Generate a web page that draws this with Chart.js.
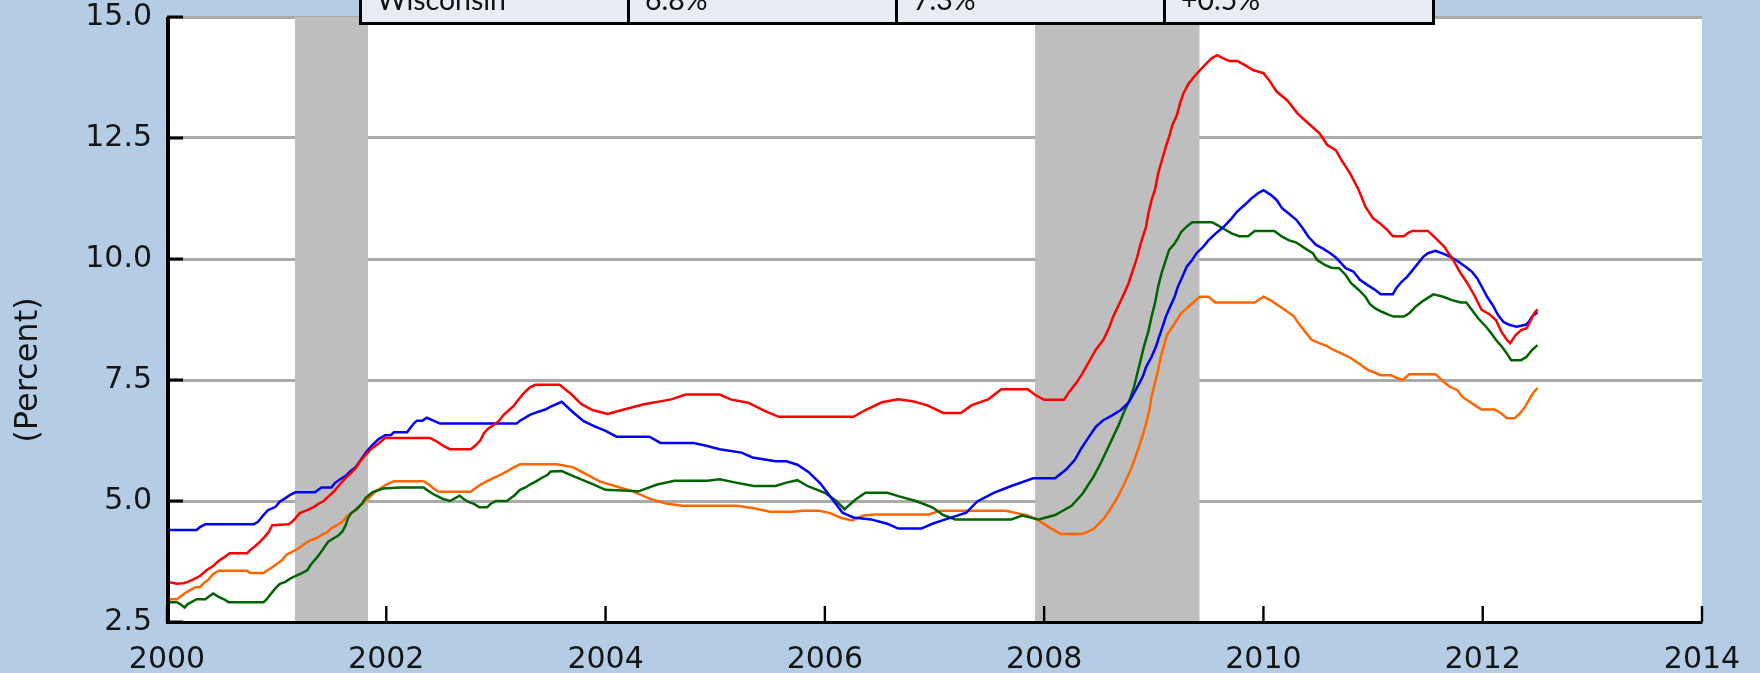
<!DOCTYPE html>
<html>
<head>
<meta charset="utf-8">
<script src="https://cdn.jsdelivr.net/npm/chart.js@4/dist/chart.umd.min.js"></script>
<style>
  html, body { margin: 0; padding: 0; background: #b4cde4; }
  #wrap { position: relative; width: 1760px; height: 673px; overflow: hidden; }
  canvas { display: block; }
</style>
</head>
<body>
<div id="wrap"><canvas id="c" width="1760" height="673"></canvas></div>
<script>
// ---------- data ----------
const xTickValues = [2000, 2002, 2004, 2006, 2008, 2010, 2012, 2014];
const xTickLabels = ['2000', '2002', '2004', '2006', '2008', '2010', '2012', '2014'];
const yTickValues = [2.5, 5, 7.5, 10, 12.5, 15];
const yTickLabels = ['2.5', '5.0', '7.5', '10.0', '12.5', '15.0'];
const yAxisTitle = '(Percent)';

const recessionStart = [2001.167, 2007.917];
const recessionEnd = [2001.833, 2009.417];

const tableRow = ['Wisconsin', '6.8%', '7.3%', '+0.5%'];

// Michigan (red)
const michiganX = [2000.00,2000.09,2000.15,2000.19,2000.24,2000.30,2000.36,2000.41,2000.47,2000.53,2000.57,2000.73,2000.76,2000.80,2000.85,2000.89,2000.93,2000.96,2001.11,2001.14,2001.17,2001.21,2001.28,2001.34,2001.38,2001.43,2001.47,2001.52,2001.56,2001.61,2001.67,2001.72,2001.76,2001.81,2001.87,2001.93,2001.99,2002.40,2002.46,2002.52,2002.58,2002.77,2002.81,2002.86,2002.89,2002.93,2002.98,2003.03,2003.07,2003.12,2003.16,2003.19,2003.25,2003.31,2003.36,2003.58,2003.68,2003.78,2003.88,2004.02,2004.15,2004.35,2004.60,2004.73,2005.04,2005.14,2005.30,2005.45,2005.58,2006.26,2006.37,2006.52,2006.67,2006.80,2006.93,2007.08,2007.24,2007.34,2007.49,2007.61,2007.85,2007.92,2008.00,2008.18,2008.23,2008.29,2008.34,2008.41,2008.47,2008.54,2008.59,2008.63,2008.68,2008.73,2008.77,2008.81,2008.85,2008.88,2008.93,2008.95,2008.98,2009.01,2009.04,2009.07,2009.11,2009.14,2009.17,2009.21,2009.24,2009.27,2009.32,2009.37,2009.42,2009.48,2009.53,2009.58,2009.63,2009.69,2009.76,2009.82,2009.91,2010.00,2010.05,2010.12,2010.22,2010.31,2010.41,2010.51,2010.58,2010.66,2010.71,2010.79,2010.87,2010.93,2011.00,2011.06,2011.13,2011.18,2011.28,2011.32,2011.36,2011.50,2011.57,2011.65,2011.73,2011.80,2011.86,2011.93,2011.99,2012.06,2012.12,2012.17,2012.22,2012.25,2012.30,2012.35,2012.40,2012.44,2012.47,2012.50];
const michiganY = [3.33,3.29,3.30,3.33,3.38,3.45,3.57,3.64,3.76,3.85,3.92,3.92,3.99,4.06,4.16,4.26,4.37,4.50,4.52,4.57,4.64,4.75,4.81,4.88,4.94,5.00,5.09,5.19,5.30,5.43,5.56,5.68,5.81,5.95,6.09,6.19,6.30,6.30,6.23,6.14,6.07,6.07,6.14,6.26,6.40,6.50,6.57,6.66,6.78,6.88,6.96,7.05,7.22,7.35,7.40,7.40,7.22,7.00,6.88,6.80,6.88,7.00,7.10,7.20,7.20,7.10,7.03,6.86,6.74,6.74,6.88,7.04,7.10,7.06,6.98,6.82,6.82,6.98,7.10,7.31,7.31,7.19,7.09,7.09,7.26,7.43,7.60,7.88,8.12,8.33,8.57,8.81,9.05,9.29,9.50,9.77,10.05,10.32,10.67,10.94,11.22,11.42,11.77,12.01,12.32,12.53,12.77,12.97,13.22,13.42,13.63,13.77,13.90,14.04,14.15,14.21,14.15,14.09,14.09,14.02,13.90,13.84,13.70,13.46,13.27,13.01,12.80,12.60,12.36,12.25,12.05,11.77,11.42,11.08,10.84,10.74,10.60,10.47,10.47,10.54,10.58,10.58,10.43,10.25,9.98,9.70,9.50,9.22,8.95,8.86,8.74,8.50,8.33,8.26,8.43,8.53,8.57,8.74,8.88,8.96];

// Illinois (blue)
const illinoisX = [2000.00,2000.27,2000.30,2000.35,2000.79,2000.83,2000.88,2000.92,2000.99,2001.03,2001.08,2001.12,2001.17,2001.35,2001.38,2001.41,2001.50,2001.53,2001.58,2001.63,2001.67,2001.72,2001.77,2001.82,2001.87,2001.93,2001.99,2002.04,2002.07,2002.19,2002.21,2002.25,2002.28,2002.33,2002.37,2002.43,2002.49,2003.19,2003.22,2003.31,2003.37,2003.45,2003.50,2003.60,2003.70,2003.80,2003.90,2004.00,2004.10,2004.40,2004.50,2004.80,2004.90,2005.04,2005.24,2005.34,2005.55,2005.65,2005.75,2005.85,2005.96,2006.06,2006.16,2006.26,2006.42,2006.57,2006.67,2006.88,2006.98,2007.10,2007.29,2007.39,2007.54,2007.70,2007.90,2008.10,2008.20,2008.28,2008.34,2008.41,2008.47,2008.54,2008.62,2008.70,2008.77,2008.81,2008.86,2008.90,2008.93,2008.98,2009.02,2009.05,2009.08,2009.11,2009.15,2009.19,2009.22,2009.26,2009.30,2009.35,2009.39,2009.45,2009.50,2009.56,2009.64,2009.71,2009.76,2009.83,2009.89,2009.95,2010.00,2010.07,2010.12,2010.17,2010.23,2010.30,2010.36,2010.41,2010.48,2010.54,2010.61,2010.66,2010.71,2010.75,2010.82,2010.88,2010.95,2011.02,2011.07,2011.18,2011.21,2011.26,2011.31,2011.36,2011.41,2011.46,2011.50,2011.57,2011.65,2011.72,2011.78,2011.85,2011.90,2011.95,2012.00,2012.04,2012.09,2012.14,2012.19,2012.24,2012.31,2012.39,2012.42,2012.45,2012.50];
const illinoisY = [4.40,4.40,4.46,4.52,4.52,4.57,4.71,4.81,4.88,4.99,5.06,5.12,5.18,5.18,5.23,5.28,5.28,5.37,5.45,5.52,5.61,5.70,5.86,6.02,6.15,6.28,6.36,6.36,6.42,6.42,6.48,6.60,6.66,6.66,6.72,6.66,6.60,6.60,6.66,6.78,6.83,6.89,6.95,7.05,6.84,6.65,6.54,6.45,6.33,6.33,6.20,6.20,6.15,6.07,6.00,5.90,5.82,5.82,5.75,5.60,5.36,5.06,4.76,4.66,4.62,4.53,4.43,4.43,4.53,4.62,4.76,4.99,5.17,5.31,5.47,5.47,5.65,5.85,6.09,6.33,6.53,6.67,6.77,6.88,7.03,7.19,7.40,7.57,7.77,7.98,8.19,8.40,8.60,8.81,9.02,9.22,9.43,9.63,9.84,9.98,10.12,10.25,10.39,10.52,10.67,10.84,10.98,11.12,11.25,11.36,11.42,11.32,11.22,11.05,10.94,10.81,10.63,10.46,10.29,10.22,10.12,10.03,9.91,9.81,9.74,9.57,9.46,9.36,9.27,9.27,9.39,9.53,9.63,9.77,9.91,10.05,10.12,10.17,10.10,10.03,9.94,9.83,9.74,9.60,9.39,9.22,9.05,8.84,8.70,8.64,8.60,8.64,8.70,8.81,8.90];

// Indiana (green)
const indianaX = [2000.00,2000.09,2000.12,2000.16,2000.19,2000.23,2000.27,2000.35,2000.38,2000.42,2000.47,2000.52,2000.56,2000.88,2000.91,2000.95,2000.99,2001.03,2001.08,2001.12,2001.17,2001.23,2001.28,2001.31,2001.34,2001.37,2001.40,2001.44,2001.47,2001.52,2001.56,2001.60,2001.63,2001.65,2001.68,2001.73,2001.78,2001.81,2001.84,2001.88,2001.94,2001.97,2002.13,2002.34,2002.37,2002.43,2002.51,2002.58,2002.62,2002.67,2002.70,2002.75,2002.80,2002.85,2002.92,2002.95,2003.00,2003.10,2003.13,2003.17,2003.22,2003.27,2003.31,2003.37,2003.42,2003.47,2003.50,2003.60,2003.70,2003.86,2004.00,2004.30,2004.47,2004.63,2004.93,2005.04,2005.19,2005.35,2005.55,2005.65,2005.75,2005.85,2006.00,2006.10,2006.18,2006.28,2006.37,2006.57,2006.67,2006.83,2006.98,2007.08,2007.19,2007.70,2007.80,2007.95,2008.10,2008.25,2008.35,2008.45,2008.52,2008.58,2008.63,2008.68,2008.73,2008.78,2008.82,2008.85,2008.88,2008.91,2008.95,2008.98,2009.01,2009.04,2009.07,2009.11,2009.14,2009.19,2009.22,2009.25,2009.30,2009.35,2009.53,2009.58,2009.64,2009.71,2009.78,2009.86,2009.92,2010.10,2010.17,2010.23,2010.30,2010.38,2010.45,2010.49,2010.56,2010.62,2010.69,2010.75,2010.80,2010.87,2010.93,2010.97,2011.02,2011.08,2011.15,2011.19,2011.28,2011.33,2011.39,2011.46,2011.55,2011.64,2011.72,2011.80,2011.85,2011.90,2011.96,2012.03,2012.08,2012.12,2012.17,2012.21,2012.26,2012.35,2012.40,2012.45,2012.50];
const indianaY = [2.91,2.91,2.87,2.80,2.87,2.92,2.97,2.97,3.02,3.09,3.02,2.97,2.91,2.91,2.97,3.09,3.20,3.29,3.33,3.39,3.45,3.51,3.57,3.68,3.76,3.84,3.93,4.06,4.16,4.23,4.28,4.37,4.50,4.64,4.75,4.83,4.95,5.06,5.12,5.19,5.23,5.26,5.28,5.28,5.23,5.14,5.05,5.00,5.05,5.11,5.05,4.98,4.94,4.87,4.87,4.94,5.00,5.00,5.05,5.12,5.23,5.28,5.34,5.41,5.48,5.54,5.61,5.62,5.52,5.37,5.23,5.20,5.34,5.42,5.42,5.45,5.38,5.31,5.31,5.38,5.43,5.30,5.17,5.01,4.83,5.03,5.17,5.17,5.10,5.00,4.87,4.71,4.62,4.62,4.70,4.62,4.71,4.90,5.15,5.50,5.80,6.09,6.33,6.57,6.85,7.09,7.36,7.64,7.91,8.19,8.50,8.81,9.08,9.43,9.70,9.98,10.19,10.32,10.43,10.56,10.67,10.76,10.76,10.70,10.62,10.53,10.47,10.47,10.58,10.58,10.46,10.39,10.34,10.22,10.12,9.98,9.88,9.82,9.81,9.67,9.50,9.36,9.22,9.07,8.98,8.91,8.84,8.81,8.81,8.88,9.02,9.14,9.27,9.22,9.15,9.10,9.10,8.95,8.77,8.60,8.46,8.33,8.20,8.08,7.91,7.91,7.98,8.12,8.22];

// Wisconsin (orange)
const wisconsinX = [2000.00,2000.09,2000.12,2000.16,2000.21,2000.26,2000.30,2000.33,2000.38,2000.42,2000.47,2000.73,2000.76,2000.88,2000.91,2000.96,2001.00,2001.05,2001.09,2001.14,2001.20,2001.24,2001.30,2001.37,2001.41,2001.46,2001.50,2001.55,2001.60,2001.64,2001.69,2001.73,2001.78,2001.82,2001.87,2001.91,2001.96,2002.00,2002.07,2002.34,2002.39,2002.43,2002.48,2002.77,2002.81,2002.86,2002.92,2002.98,2003.04,2003.10,2003.15,2003.22,2003.55,2003.70,2003.80,2003.95,2004.10,2004.25,2004.40,2004.55,2004.70,2005.20,2005.35,2005.50,2005.70,2005.80,2005.95,2006.05,2006.15,2006.25,2006.35,2006.45,2006.95,2007.05,2007.65,2007.75,2007.85,2007.95,2008.05,2008.15,2008.35,2008.45,2008.55,2008.65,2008.72,2008.80,2008.86,2008.90,2008.93,2008.96,2008.98,2009.01,2009.04,2009.06,2009.09,2009.12,2009.17,2009.21,2009.25,2009.30,2009.35,2009.42,2009.50,2009.56,2009.92,2010.00,2010.07,2010.13,2010.22,2010.28,2010.33,2010.38,2010.44,2010.51,2010.58,2010.64,2010.72,2010.80,2010.87,2010.95,2011.02,2011.07,2011.16,2011.21,2011.27,2011.33,2011.57,2011.64,2011.70,2011.77,2011.81,2011.88,2011.94,2011.99,2012.11,2012.17,2012.22,2012.29,2012.34,2012.39,2012.44,2012.47,2012.50];
const wisconsinY = [2.97,2.97,3.02,3.09,3.16,3.22,3.22,3.29,3.38,3.49,3.56,3.56,3.51,3.51,3.56,3.63,3.70,3.78,3.89,3.95,4.02,4.09,4.18,4.24,4.30,4.35,4.44,4.50,4.57,4.68,4.76,4.85,4.94,5.02,5.12,5.21,5.28,5.34,5.41,5.41,5.34,5.26,5.19,5.19,5.26,5.34,5.41,5.48,5.54,5.61,5.68,5.76,5.76,5.70,5.58,5.40,5.30,5.20,5.05,4.95,4.90,4.90,4.85,4.78,4.78,4.80,4.80,4.75,4.65,4.60,4.70,4.72,4.72,4.80,4.80,4.75,4.70,4.60,4.45,4.32,4.32,4.42,4.65,5.00,5.30,5.70,6.09,6.36,6.60,6.88,7.16,7.43,7.71,7.95,8.19,8.43,8.60,8.74,8.88,8.98,9.08,9.22,9.22,9.10,9.10,9.22,9.14,9.05,8.91,8.81,8.64,8.50,8.33,8.26,8.20,8.12,8.04,7.95,7.84,7.71,7.65,7.60,7.60,7.55,7.50,7.62,7.62,7.47,7.36,7.29,7.16,7.05,6.96,6.89,6.89,6.81,6.71,6.71,6.81,6.96,7.16,7.26,7.33];

// ---------- chart ----------
function pts(xs, ys) { return xs.map((x, i) => ({ x: x, y: ys[i] })); }

const FONT = '"DejaVu Sans", Verdana, sans-serif';
const TEXT = '#151515';

const decor = {
  id: 'decor',
  beforeDraw(chart) {
    const { ctx, chartArea: a } = chart;
    ctx.save();
    ctx.fillStyle = '#ffffff';
    ctx.fillRect(a.left, a.top, a.right - a.left, a.bottom - a.top);
    ctx.restore();
  },
  beforeDatasetsDraw(chart) {
    const { ctx, chartArea: a, scales } = chart;
    ctx.save();
    ctx.fillStyle = '#bebebe';
    recessionStart.forEach((s, i) => {
      const x0 = scales.x.getPixelForValue(s);
      const x1 = scales.x.getPixelForValue(recessionEnd[i]);
      ctx.fillRect(x0, a.top, x1 - x0, a.bottom - a.top);
    });
    ctx.restore();
  },
  afterDatasetsDraw(chart) {
    const { ctx, chartArea: a, scales } = chart;
    ctx.save();
    ctx.fillStyle = '#000';
    yTickValues.forEach(v => {
      const y = scales.y.getPixelForValue(v);
      ctx.fillRect(a.left, y - 1.5, 16, 3);
    });
    xTickValues.forEach(v => {
      const x = scales.x.getPixelForValue(v);
      ctx.fillRect(x - 1.2, a.bottom - 16, 2.4, 16);
    });
    ctx.fillRect(a.left - 1, a.top, 4, a.bottom - a.top + 2);
    ctx.fillRect(a.left - 1, a.bottom - 1, a.right - a.left + 1.5, 3);
    ctx.restore();
  },
  afterDraw(chart) {
    const { ctx } = chart;
    ctx.save();
    ctx.translate(28.5, 370);
    ctx.rotate(-Math.PI / 2);
    ctx.font = '32px ' + FONT;
    ctx.fillStyle = TEXT;
    ctx.textAlign = 'center';
    ctx.textBaseline = 'middle';
    ctx.fillText(yAxisTitle, 0, 0);
    ctx.restore();

    ctx.save();
    const edges = [359, 627, 895, 1163, 1432];
    ctx.fillStyle = '#e8ecf4';
    ctx.fillRect(edges[0], -10, edges[4] - edges[0], 35);
    ctx.fillStyle = '#000';
    edges.forEach(e => ctx.fillRect(e, -10, 3, 35));
    ctx.fillRect(edges[0], 22, edges[4] - edges[0] + 3, 3);
    ctx.font = '27px Lato, "Open Sans", sans-serif';
    const w = ctx.measureText('Wisconsin').width;
    const size = 27 * 129 / w;
    ctx.font = size.toFixed(2) + 'px Lato, "Open Sans", sans-serif';
    ctx.fillStyle = '#111';
    ctx.textBaseline = 'alphabetic';
    ctx.textAlign = 'left';
    tableRow.forEach((t, i) => ctx.fillText(t, edges[i] + 18, 10));
    ctx.restore();
  }
};

new Chart(document.getElementById('c'), {
  type: 'line',
  data: {
    datasets: [
      { label: 'Michigan', data: pts(michiganX, michiganY), borderColor: '#ff0000' },
      { label: 'Illinois', data: pts(illinoisX, illinoisY), borderColor: '#0000ff' },
      { label: 'Indiana', data: pts(indianaX, indianaY), borderColor: '#006400' },
      { label: 'Wisconsin', data: pts(wisconsinX, wisconsinY), borderColor: '#ff6600' }
    ]
  },
  options: {
    responsive: false,
    animation: false,
    devicePixelRatio: 1,
    layout: { padding: { left: 0, top: 17, right: 58, bottom: 0 } },
    elements: {
      point: { radius: 0 },
      line: { borderWidth: 2.5, tension: 0, fill: false, borderJoinStyle: 'miter' }
    },
    plugins: { legend: { display: false }, tooltip: { enabled: false } },
    scales: {
      x: {
        type: 'linear',
        min: 2000, max: 2014,
        afterFit(s) { s.height = 51; s.paddingLeft = 0; s.paddingRight = 0; },
        grid: { display: false },
        border: { display: false },
        ticks: {
          stepSize: 2,
          autoSkip: false,
          maxRotation: 0,
          padding: 15,
          color: TEXT,
          font: { family: FONT, size: 30, lineHeight: 1 },
          callback: (v) => { const i = xTickValues.indexOf(v); return i >= 0 ? xTickLabels[i] : ''; }
        }
      },
      y: {
        min: 2.5, max: 15,
        afterFit(s) { s.width = 167; s.paddingTop = 0; s.paddingBottom = 0; },
        grid: { color: '#aaaaaa', lineWidth: 3, drawTicks: false },
        border: { display: false },
        ticks: {
          stepSize: 2.5,
          padding: 15,
          color: TEXT,
          font: { family: FONT, size: 30, lineHeight: 1 },
          callback: (v) => { const i = yTickValues.findIndex(t => Math.abs(t - v) < 1e-6); return i >= 0 ? yTickLabels[i] : ''; }
        }
      }
    }
  },
  plugins: [decor]
});
</script>
</body>
</html>
